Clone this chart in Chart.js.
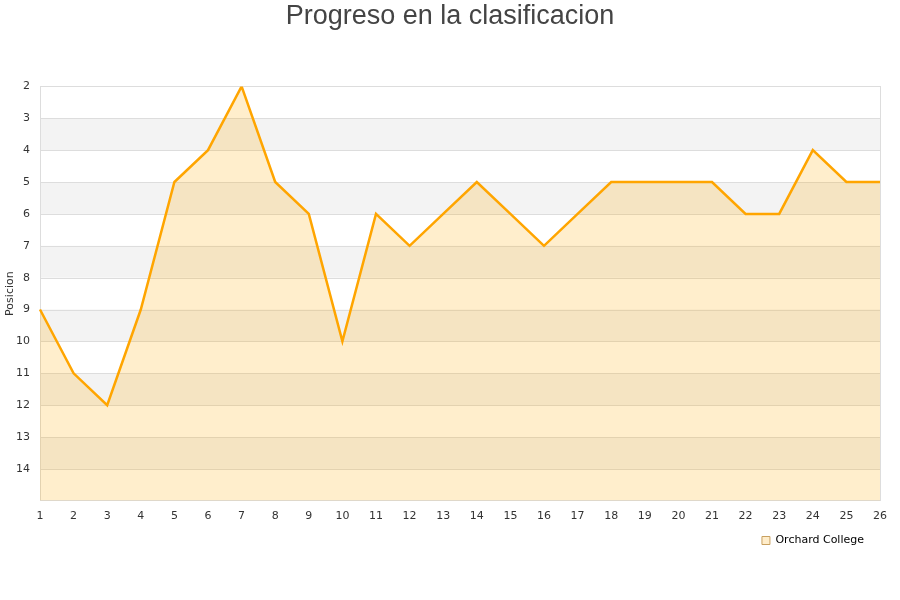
<!DOCTYPE html>
<html>
<head>
<meta charset="utf-8">
<script src="https://cdn.jsdelivr.net/npm/chart.js@4/dist/chart.umd.min.js"></script>
<style>
  html, body { margin: 0; padding: 0; background: #fff; }
</style>
</head>
<body>
<canvas id="clasif" width="900" height="600"></canvas>
<script>
"use strict";
// jornadas y posiciones
var jornadas = ["1", "2", "3", "4", "5", "6", "7", "8", "9", "10", "11", "12", "13",
  "14", "15", "16", "17", "18", "19", "20", "21", "22", "23", "24", "25", "26"];
var posiciones = [9, 11, 12, 9, 5, 4, 2, 5, 6, 10, 6, 7, 6, 5, 6, 7, 6, 5, 5, 5, 5, 6, 6, 4, 5, 5];
var equipo = "Orchard College";
var posMin = 2;
var posMax = 15;

// bandas grises alternas + borde del area
var bandas = {
  id: 'bandas',
  afterLayout: function(chart) {
    // leyenda algo separada del borde derecho
    chart.legend.right -= 33;
  },
  beforeDatasetsDraw: function(chart) {
    var ctx = chart.ctx;
    var area = chart.chartArea;
    var y = chart.scales.y;
    ctx.save();
    ctx.fillStyle = '#f3f3f3';
    for (var v = posMin + 1; v < posMax; v += 2) {
      var y1 = y.getPixelForValue(v);
      var y2 = y.getPixelForValue(v + 1);
      ctx.fillRect(area.left, y1, area.right - area.left, y2 - y1);
    }
    ctx.strokeStyle = '#dddddd';
    ctx.lineWidth = 1;
    for (var t = posMin + 1; t < posMax; t++) {
      var py = Math.round(y.getPixelForValue(t)) + 0.5;
      ctx.beginPath();
      ctx.moveTo(area.left, py);
      ctx.lineTo(area.right, py);
      ctx.stroke();
    }
    ctx.strokeRect(Math.round(area.left) + 0.5, Math.round(area.top) + 0.5,
      Math.round(area.right - area.left), Math.round(area.bottom - area.top));
    ctx.restore();
  }
};

var ctx = document.getElementById("clasif");
var chart = new Chart(ctx, {
  type: 'line',
  data: {
    labels: jornadas,
    datasets: [{
      label: equipo,
      data: posiciones,
      borderColor: '#ffa500',
      backgroundColor: 'rgba(255, 170, 0, 0.2)',
      borderWidth: 2.5,
      pointRadius: 0,
      tension: 0,
      fill: { value: posMax }
    }]
  },
  options: {
    responsive: false,
    animation: false,
    devicePixelRatio: 1,
    layout: { padding: { left: 0, right: 0, top: 0, bottom: 44 } },
    plugins: {
      title: {
        display: true,
        text: 'Progreso en la clasificacion',
        color: '#444',
        font: { family: 'Liberation Sans', size: 27, weight: 'normal' },
        padding: { top: 0, bottom: 54 }
      },
      legend: {
        position: 'bottom',
        align: 'end',
        labels: {
          boxWidth: 8,
          boxHeight: 8,
          padding: 3,
          color: '#000',
          font: { family: 'DejaVu Sans', size: 11 },
          generateLabels: function(c) {
            return [{
              text: equipo,
              fillStyle: 'rgba(255, 220, 150, 0.5)',
              strokeStyle: '#c8a060',
              lineWidth: 1,
              datasetIndex: 0
            }];
          }
        }
      },
      tooltip: { enabled: false }
    },
    scales: {
      x: {
        offset: false,
        grid: { display: false, drawTicks: false },
        border: { display: false },
        ticks: { color: '#333', font: { family: 'DejaVu Sans', size: 11 }, maxRotation: 0, autoSkip: false, padding: 9 },
        afterFit: function(s) { s.paddingRight = 20; }
      },
      y: {
        reverse: true,
        min: posMin,
        max: posMax,
        grid: { display: false, drawTicks: false },
        border: { display: false },
        title: { display: true, text: 'Posicion', color: '#333', font: { family: 'DejaVu Sans', size: 11 }, padding: { top: 4, bottom: 0 } },
        ticks: {
          stepSize: 1,
          color: '#333',
          font: { family: 'DejaVu Sans', size: 11 },
          padding: 10,
          callback: function(v) { return v === posMax ? '' : v; }
        },
        afterFit: function(s) { s.width = 40; }
      }
    }
  },
  plugins: [bandas]
});
</script>
</body>
</html>
